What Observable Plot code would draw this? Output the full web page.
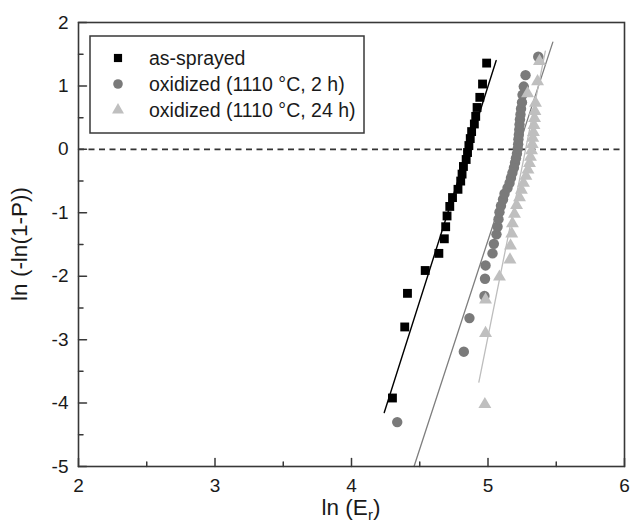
<!DOCTYPE html>
<html><head><meta charset="utf-8">
<script src="https://cdn.jsdelivr.net/npm/d3@7"></script>
<script src="https://cdn.jsdelivr.net/npm/@observablehq/plot@0.6"></script>
<style>body{margin:0;background:#fff;} #chart{width:634px;height:529px;}</style>
</head><body><div id="chart"></div>
<script>
// ---- data ----
const seriesNames = ["as-sprayed", "oxidized (1110 °C, 2 h)", "oxidized (1110 °C, 24 h)"];

const sprayedX = [4.30,4.39,4.41,4.54,4.64,4.68,4.69,4.70,4.72,4.74,4.78,4.80,4.81,4.82,4.84,4.85,4.86,4.87,4.88,4.90,4.91,4.92,4.94,4.96,4.99];
const sprayedY = [-3.92,-2.80,-2.27,-1.91,-1.64,-1.41,-1.22,-1.05,-0.90,-0.76,-0.63,-0.50,-0.39,-0.27,-0.16,-0.05,0.06,0.17,0.28,0.40,0.52,0.66,0.82,1.03,1.36];

const ox2X = [4.335,4.823,4.864,4.974,4.978,4.982,5.033,5.043,5.062,5.070,5.077,5.084,5.095,5.110,5.121,5.143,5.158,5.168,5.179,5.190,5.198,5.205,5.212,5.218,5.221,5.223,5.226,5.229,5.231,5.234,5.238,5.242,5.249,5.253,5.262,5.275,5.368];
const ox2Y = [-4.30,-3.19,-2.66,-2.31,-2.04,-1.83,-1.64,-1.49,-1.34,-1.22,-1.10,-0.99,-0.89,-0.79,-0.70,-0.61,-0.53,-0.45,-0.37,-0.29,-0.21,-0.14,-0.07,0.01,0.08,0.16,0.23,0.31,0.39,0.47,0.55,0.64,0.74,0.86,0.99,1.17,1.46];

const ox24X = [4.977,4.982,4.982,5.084,5.161,5.165,5.174,5.179,5.194,5.209,5.231,5.245,5.260,5.278,5.293,5.304,5.311,5.319,5.324,5.328,5.333,5.337,5.341,5.344,5.348,5.29,5.363,5.377];
const ox24Y = [-4.02,-2.90,-2.37,-2.01,-1.74,-1.52,-1.33,-1.17,-1.02,-0.88,-0.76,-0.64,-0.53,-0.42,-0.32,-0.22,-0.12,-0.02,0.08,0.18,0.27,0.38,0.49,0.60,0.73,0.88,1.07,1.39];

// fitted lines (end points)
const sprayedFitX = [4.24, 5.06],  sprayedFitY = [-4.15, 1.40];
const ox2FitX     = [4.458, 5.475], ox2FitY    = [-5.0, 1.69];
const ox24FitX    = [4.933, 5.42],  ox24FitY   = [-3.67, 1.55];

const xTicks = [2, 3, 4, 5, 6];
const yTicks = [2, 1, 0, -1, -2, -3, -4, -5];
const xMinor = [2.5, 3.5, 4.5, 5.5];
const yMinor = [1.5, 0.5, -0.5, -1.5, -2.5, -3.5, -4.5];
const refY = [0];

// ---- styles ----
const colors = ["#000000", "#7a7a7a", "#bfbfbf"];
const lineColors = ["#000000", "#7e7e7e", "#bdbdbd"];
const symbols = ["square", "circle", "triangle"];
const radii = [5.0, 5.2, 4.8];
const axisColor = "#383838";
const FONT = "'Liberation Sans', Arial, Helvetica, sans-serif";

const toRows = (xs, ys) => xs.map((x, i) => ({x, y: ys[i]}));
const pts = [toRows(sprayedX, sprayedY), toRows(ox2X, ox2Y), toRows(ox24X, ox24Y)];
const fits = [toRows(sprayedFitX, sprayedFitY), toRows(ox2FitX, ox2FitY), toRows(ox24FitX, ox24FitY)];

const tickShape = {draw(ctx, l) { ctx.moveTo(0, 0); ctx.lineTo(0, -l); }};

const plot = Plot.plot({
  width: 634, height: 529,
  marginLeft: 78, marginRight: 10, marginTop: 22, marginBottom: 63,
  style: {fontFamily: FONT, fontSize: "19px", color: "#1a1a1a", background: "#fff"},
  x: {domain: [2, 6]},
  y: {domain: [-5, 2]},
  marks: [
    Plot.ruleY(refY, {y: d => d, stroke: "#333", strokeWidth: 1.6, strokeDasharray: "6,4.5"}),
    ...fits.map((f, i) => Plot.line(f, {x: "x", y: "y", stroke: lineColors[i], strokeWidth: i === 0 ? 1.4 : 1.3})),
    Plot.dot(pts[1], {x: "x", y: "y", symbol: symbols[1], r: radii[1], fill: colors[1]}),
    Plot.dot(pts[2], {x: "x", y: "y", symbol: symbols[2], r: radii[2], fill: colors[2]}),
    Plot.dot(pts[0], {x: "x", y: "y", symbol: symbols[0], r: radii[0], fill: colors[0]}),
    Plot.frame({stroke: axisColor, strokeWidth: 1.6}),
    Plot.vector(xTicks, {x: d => d, frameAnchor: "bottom", length: 8, anchor: "start", shape: tickShape, stroke: axisColor, strokeWidth: 1.5}),
    Plot.vector(xMinor, {x: d => d, frameAnchor: "bottom", length: 4.5, anchor: "start", shape: tickShape, stroke: axisColor, strokeWidth: 1.5}),
    Plot.vector(yTicks, {y: d => d, frameAnchor: "left", rotate: 90, length: 8, anchor: "start", shape: tickShape, stroke: axisColor, strokeWidth: 1.5}),
    Plot.vector(yMinor, {y: d => d, frameAnchor: "left", rotate: 90, length: 4.5, anchor: "start", shape: tickShape, stroke: axisColor, strokeWidth: 1.5}),
    Plot.axisX({ticks: xTicks, tickSize: 0, tickPadding: 12, tickFormat: d => String(d), label: null, fill: "#1a1a1a"}),
    Plot.axisY({ticks: yTicks, tickSize: 0, tickPadding: 10, tickFormat: d => String(d), label: null, fill: "#1a1a1a"})
  ]
});

document.getElementById("chart").appendChild(plot);

// ---- legend & axis titles ----
const svg = d3.select(plot);
const lg = svg.append("g").attr("text-anchor", "start");
lg.append("rect").attr("x", 90).attr("y", 36).attr("width", 274).attr("height", 97)
  .attr("fill", "#fff").attr("stroke", axisColor).attr("stroke-width", 1.5);
const d3sym = {square: d3.symbolSquare, circle: d3.symbolCircle, triangle: d3.symbolTriangle};
seriesNames.forEach((name, i) => {
  const cy = 58 + i * 26;
  lg.append("path")
    .attr("d", d3.symbol(d3sym[symbols[i]], Math.PI * radii[i] * radii[i] * 0.85)())
    .attr("transform", `translate(118,${cy})`)
    .attr("fill", colors[i]);
  lg.append("text").attr("x", 149).attr("y", cy).attr("dy", "0.35em").attr("text-anchor", "start")
    .attr("font-family", FONT).attr("font-size", 19.5).attr("fill", "#1a1a1a").text(name);
});

const xt = svg.append("text").attr("x", 351).attr("y", 515).attr("text-anchor", "middle")
  .attr("font-family", FONT).attr("font-size", 22.5).attr("fill", "#1a1a1a");
xt.append("tspan").text("ln (E");
xt.append("tspan").attr("font-size", 15).attr("dy", 5).text("r");
xt.append("tspan").attr("dy", -5).text(")");

svg.append("text").attr("transform", "translate(27,244) rotate(-90)").attr("text-anchor", "middle")
  .attr("font-family", FONT).attr("font-size", 22.5).attr("fill", "#1a1a1a").text("ln (-ln(1-P))");
</script>
</body></html>
